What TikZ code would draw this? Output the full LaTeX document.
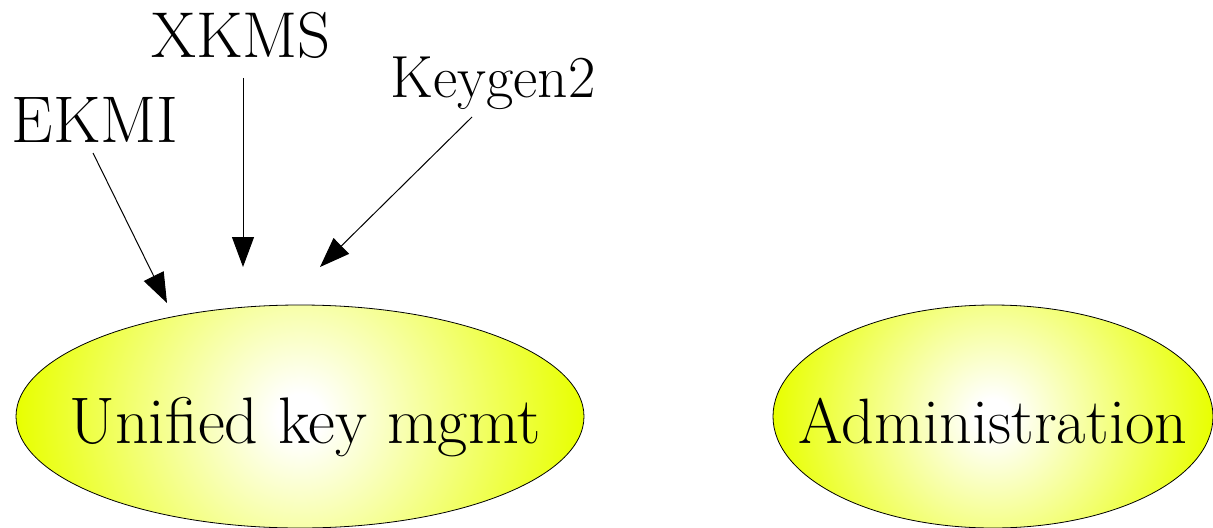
\documentclass[tikz,border=0pt]{standalone}
\usetikzlibrary{shapes.geometric,arrows.meta}
\definecolor{yelc}{RGB}{232,255,0}
\pgfdeclareradialshading{yelfill}{\pgfpointorigin}{color(0bp)=(white); color(2bp)=(white); color(25bp)=(yelc); color(50bp)=(yelc)}
\tikzset{
 lbl/.style={anchor=base, inner sep=0pt},
 conn/.style={line width=0.75pt, -{Triangle[length=22.5pt,width=16.5pt]}},
 blob/.style={ellipse, draw, line width=0.6pt, inner sep=0pt, minimum height=167.25pt, text height=40pt, text depth=0pt},
}
\begin{document}
\begin{tikzpicture}[x=0.75pt,y=-0.75pt]
\useasboundingbox (0,0) rectangle (1213,528);
\node[blob, minimum width=426pt, path picture={\shade[shading=yelfill] (path picture bounding box.center) circle (213pt);}] (ukm) at (300,416.5) {\fontsize{49.4pt}{52pt}\selectfont\makebox[0pt]{\hspace{7.5pt}Unified key mgmt}};
\node[blob, minimum width=330pt, path picture={\shade[shading=yelfill] (path picture bounding box.center) circle (165pt);}] (adm) at (993,416.5) {\fontsize{48.1pt}{50pt}\selectfont\makebox[0pt]{Administration}};
\node[lbl, font=\fontsize{49.5pt}{52pt}\selectfont] (ekmi) at (95,142) {EKMI};
\node[lbl, font=\fontsize{48.6pt}{50pt}\selectfont] (xkms) at (241,58) {XKMS};
\node[lbl, font=\fontsize{44.6pt}{46pt}\selectfont] (kg) at (493,98) {Keygen2};
\coordinate (tE) at (167,303);
\coordinate (tX) at (243,267);
\coordinate (tK) at (320,267);
\draw[conn] ([shift={(-2,11)}]ekmi.base) -- (tE);
\draw[conn] ([shift={(2,20)}]xkms.base) -- (tX);
\draw[conn] ([shift={(-21,19)}]kg.base) -- (tK);
\end{tikzpicture}
\end{document}
